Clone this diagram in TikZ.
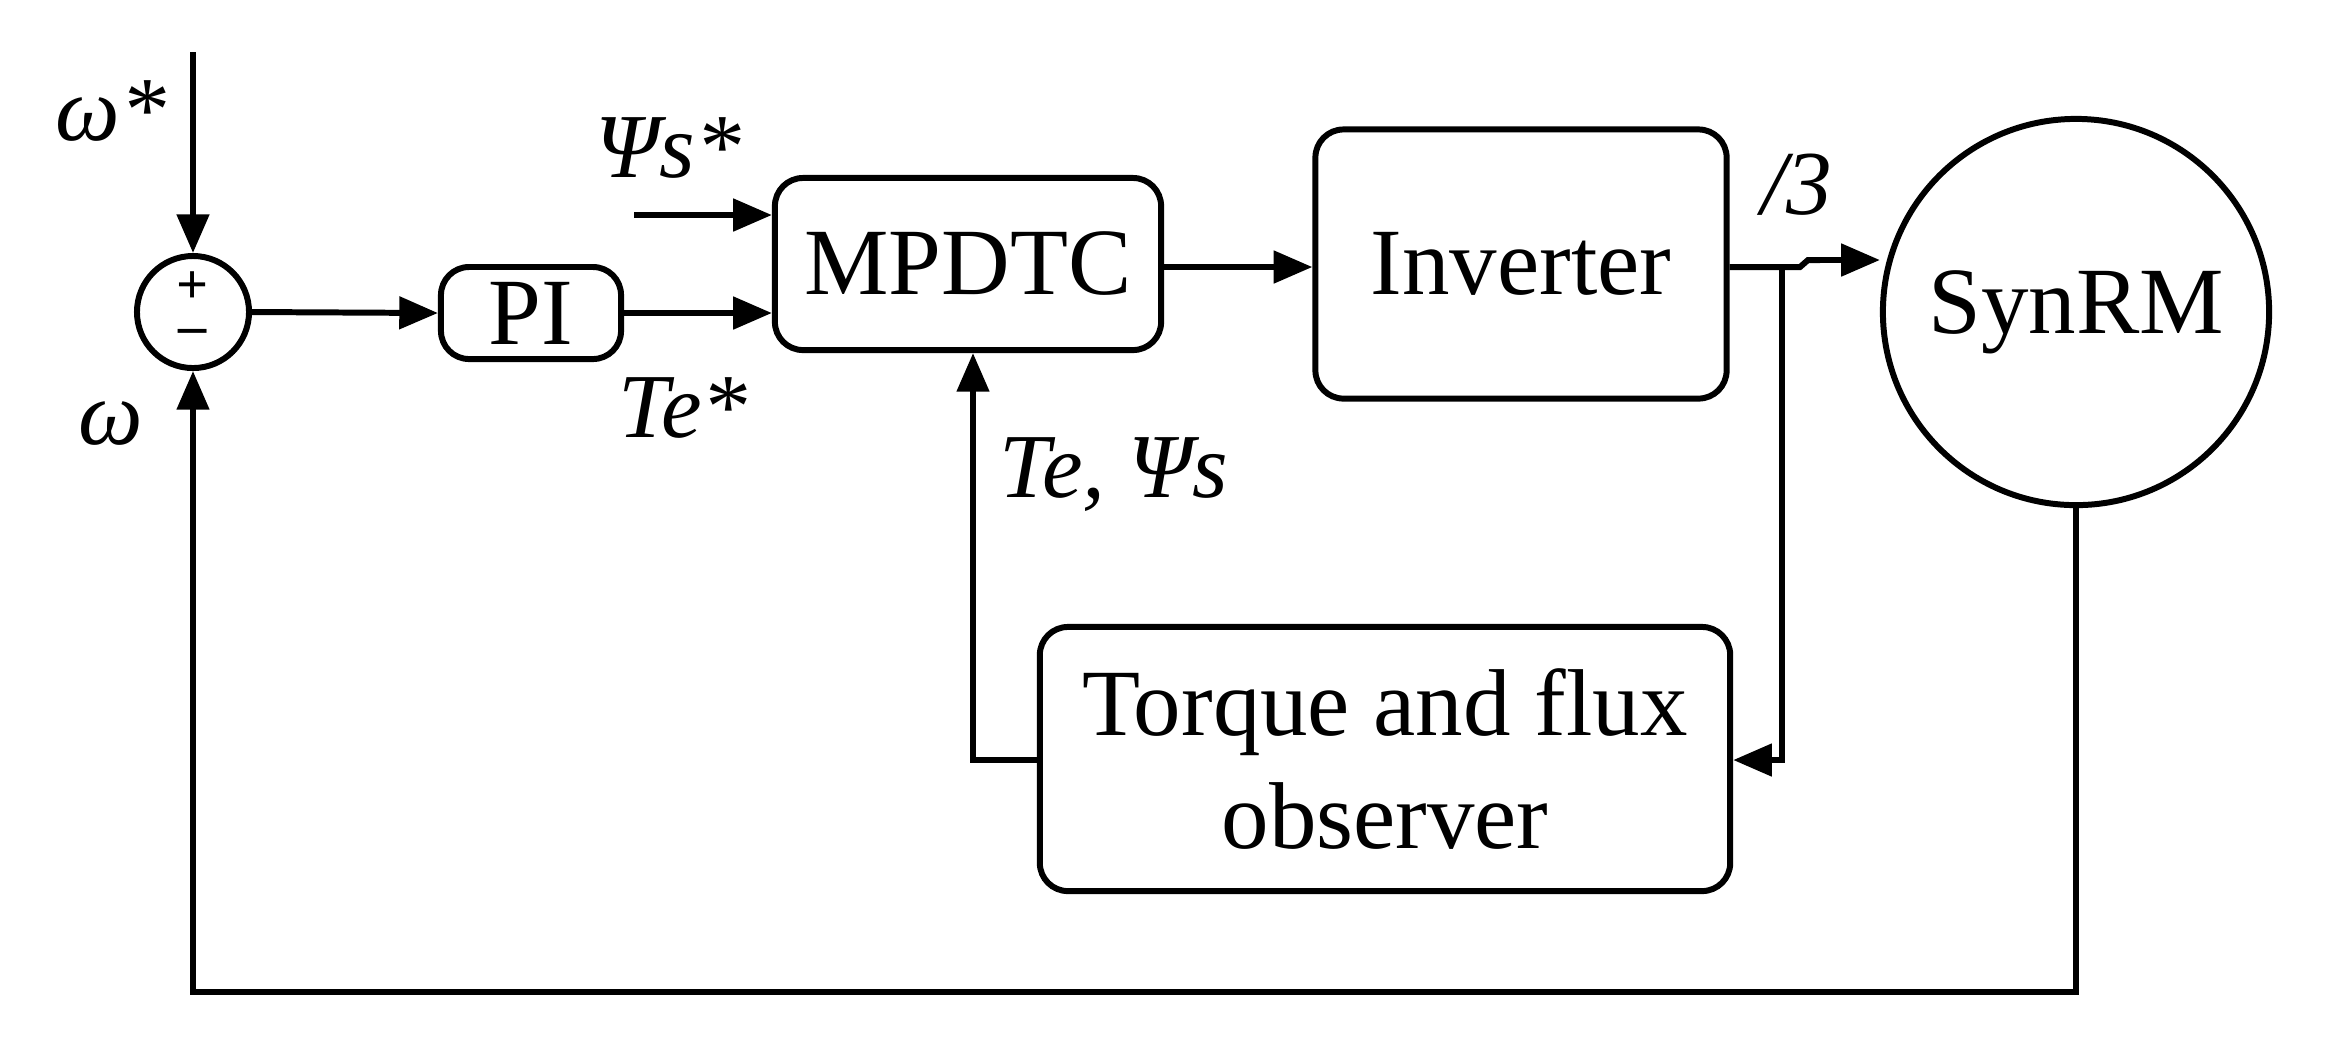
\documentclass[tikz,border=0pt]{standalone}
\usepackage{fontspec}
\setmainfont{Liberation Serif}
\usetikzlibrary{arrows.meta}
\begin{document}
\begin{tikzpicture}[x=0.01cm,y=-0.01cm,
  line width=1.7pt,
  >={Triangle[length=11pt,width=9pt]},
  blk/.style={draw,rounded corners=8pt,inner sep=0pt},
  lbl/.style={font=\fontsize{26}{30}\selectfont\itshape},
  txt/.style={font=\fontsize{27}{32}\selectfont}]
\useasboundingbox (0,0) rectangle (2328,1059);
\node[draw,circle,minimum size=1.12cm,inner sep=0pt] (sum) at (193,312) {};
\node[font=\fontsize{16}{16}\selectfont\bfseries,inner sep=0pt] (pl) at (193,288) {+};
\node[font=\fontsize{16}{16}\selectfont\bfseries,inner sep=0pt] (mi) at (193,337) {--};
\node[blk,minimum width=1.8cm,minimum height=0.92cm,txt] (pi) at (531,313) {PI};
\node[blk,minimum width=3.86cm,minimum height=1.72cm,txt] (mp) at (968,264) {MPDTC};
\node[blk,minimum width=4.11cm,minimum height=2.69cm,txt] (inv) at (1521,264) {Inverter};
\node[draw,circle,minimum size=3.86cm,inner sep=0pt,txt] (sm) at (2076,312) {SynRM};
\node[blk,minimum width=6.9cm,minimum height=2.64cm,txt,align=center] (obs) at (1385,759) {Torque and flux\\observer};
\coordinate (wtop) at (193,52);
\coordinate (psin) at (634,215);
\coordinate (br) at (1782,267);
\coordinate (brd) at (1782,760);
\coordinate (fb) at (973,760);
\coordinate (bl) at (193,992);
\coordinate (br2) at (2076,992);
\node[lbl] at (111,111) {ω*};
\node[lbl] at (111,423) {ω};
\node[lbl] at (668,148) {Ψs*};
\node[lbl] at (683,408) {Te*};
\node[lbl] at (1114,475) {Te, Ψs};
\node[lbl] at (1797,185) {/3};
\draw[->] (wtop) -- (sum.north);
\draw[->] (sum.east) -- (pi.west);
\draw[->] (pi.east) -- (pi.east -| mp.west);
\draw[->] (psin) -- (psin -| mp.west);
\draw[->] (mp.east |- 0,267) -- (inv.west |- 0,267);
\draw (inv.east |- 0,267) -- (br) -- (1800,267) -- (1808,260) -- (1820,260);
\draw[->] (1820,260) -- (sm.west |- 0,260);
\draw[->] (br) -- (brd) -- (obs.east |- brd);
\draw[->] (obs.west |- fb) -- (fb) -- (fb |- mp.south);
\draw[->] (sm.south) -- (br2) -- (bl) -- (sum.south);
\end{tikzpicture}
\end{document}
